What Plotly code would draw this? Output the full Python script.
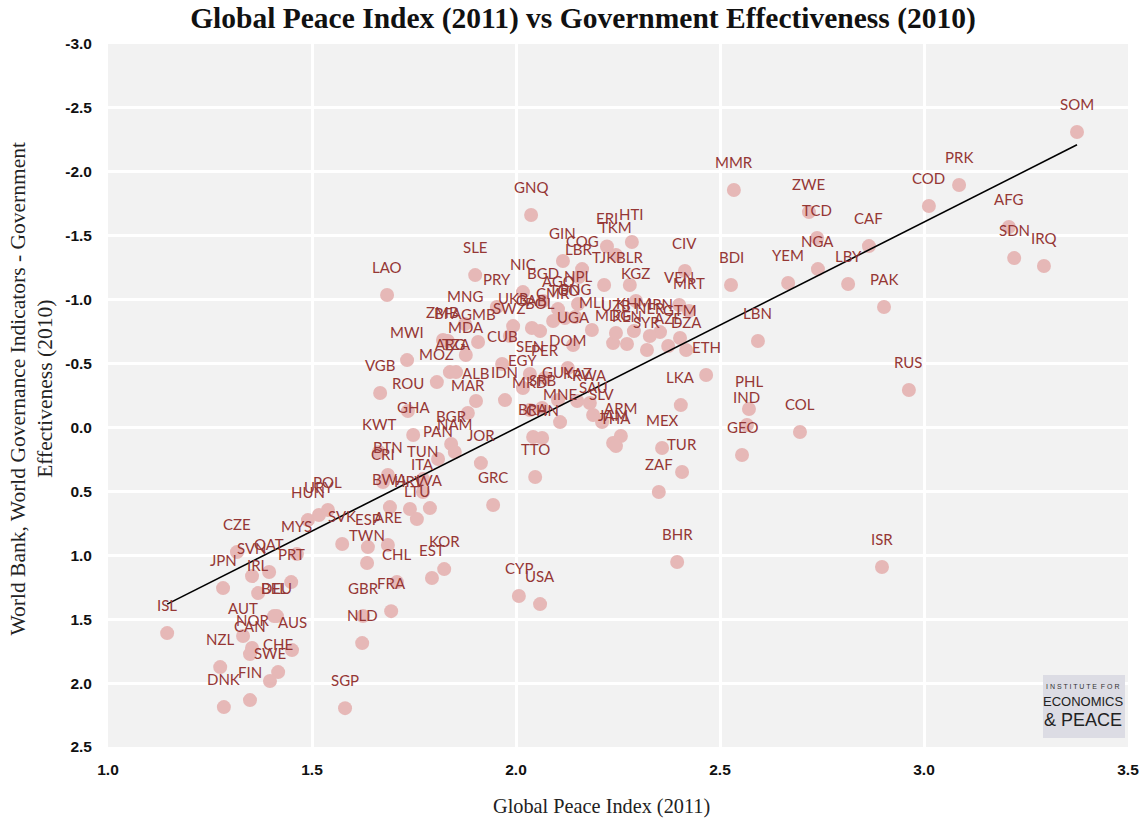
import numpy as np
import plotly.graph_objects as go

codes = ["SOM","PRK","COD","AFG","SDN","IRQ","CAF","PAK","LBY","RUS",
         "ISR","MMR","ZWE","TCD","NGA","YEM","BDI","LBN","ETH","LKA",
         "PHL","IND","GEO","COL","MEX","TUR","ZAF","BHR","CIV","VEN",
         "MRT","ERI","HTI","TKM","GIN","COG","LBR","TJK","BLR","KGZ",
         "NIC","BGD","NPL","AGO","CMR","TGO","PNG","MLI","UKR","GAB",
         "SWZ","BOL","UGA","MDG","CUB","SEN","DOM","PER","GNQ","UZB",
         "KHM","IRN","NER","GTM","KEN","SYR","AZE","DZA","SLE","PRY",
         "LAO","MNG","ZMB","BFA","GMB","MDA","MWI","MOZ","ARG","TZA",
         "VGB","ROU","MAR","ALB","IDN","EGY","MKD","SRB","GUY","KAZ",
         "RWA","SAU","MNE","SLV","BRA","CHN","ARM","JAM","THA","TTO",
         "GRC","CYP","USA","JOR","GHA","BGR","NAM","PAN","KWT","BTN",
         "CRI","TUN","ITA","BWA","HRV","LVA","LTU","SVK","ESP","ARE",
         "TWN","CHL","FRA","GBR","NLD","EST","KOR","SGP","HUN","URY",
         "POL","MYS","CZE","SVN","QAT","JPN","IRL","PRT","DEU","BEL",
         "AUT","NOR","CAN","AUS","NZL","CHE","SWE","FIN","DNK","ISL"]

gpi = [3.375,3.086,3.012,3.208,3.221,3.294,2.865,2.902,2.814,2.963,
       2.897,2.534,2.718,2.738,2.740,2.667,2.527,2.593,2.466,2.404,
       2.571,2.566,2.554,2.696,2.358,2.407,2.350,2.395,2.414,2.400,
       2.424,2.223,2.284,2.245,2.115,2.162,2.154,2.216,2.279,2.294,
       2.017,2.066,2.152,2.103,2.091,2.120,2.145,2.186,1.993,2.039,
       1.985,2.059,2.140,2.238,1.966,2.034,2.127,2.071,2.037,2.245,
       2.289,2.353,2.328,2.402,2.272,2.321,2.373,2.417,1.900,1.953,
       1.684,1.875,1.821,1.833,1.907,1.877,1.733,1.806,1.838,1.853,
       1.667,1.735,1.882,1.902,1.973,2.017,2.034,2.064,2.103,2.150,
       2.181,2.189,2.108,2.211,2.042,2.064,2.257,2.238,2.245,2.047,
       1.944,2.007,2.059,1.914,1.748,1.841,1.850,1.809,1.664,1.686,
       1.674,1.772,1.772,1.691,1.740,1.789,1.757,1.574,1.637,1.686,
       1.635,1.708,1.694,1.625,1.623,1.794,1.824,1.581,1.490,1.517,
       1.539,1.463,1.316,1.353,1.395,1.282,1.368,1.449,1.414,1.407,
       1.331,1.353,1.348,1.451,1.275,1.417,1.397,1.348,1.284,1.145]

ge = [-2.311,-1.897,-1.732,-1.568,-1.325,-1.263,-1.419,-0.942,-1.122,-0.293,
      1.092,-1.858,-1.685,-1.482,-1.239,-1.130,-1.114,-0.676,-0.410,-0.175,
      -0.144,-0.019,0.216,0.036,0.161,0.349,0.505,1.053,-1.224,-0.958,
      -0.911,-1.416,-1.451,-1.349,-1.302,-1.239,-1.177,-1.114,-1.114,-0.989,
      -1.059,-0.989,-0.966,-0.926,-0.833,-0.856,-0.864,-0.762,-0.793,-0.778,
      -0.715,-0.754,-0.645,-0.660,-0.496,-0.418,-0.465,-0.387,-1.662,-0.739,
      -0.754,-0.746,-0.715,-0.700,-0.653,-0.606,-0.637,-0.606,-1.192,-0.942,
      -1.036,-0.809,-0.684,-0.676,-0.668,-0.567,-0.527,-0.355,-0.433,-0.433,
      -0.269,-0.128,-0.113,-0.207,-0.214,-0.308,-0.136,-0.152,-0.214,-0.207,
      -0.191,-0.097,-0.042,-0.042,0.075,0.083,0.067,0.122,0.146,0.388,
      0.607,1.319,1.382,0.279,0.059,0.130,0.192,0.247,0.192,0.372,
      0.427,0.404,0.505,0.623,0.638,0.631,0.717,0.912,0.936,0.920,
      1.061,1.210,1.437,1.476,1.687,1.178,1.108,2.196,0.725,0.685,
      0.646,0.991,0.975,1.163,1.131,1.257,1.296,1.210,1.476,1.476,
      1.632,1.726,1.773,1.742,1.875,1.914,1.984,2.133,2.188,1.609]

y_tick_vals = [-3.0, -2.5, -2.0, -1.5, -1.0, -0.5, 0.0, 0.5, 1.0, 1.5, 2.0, 2.5]
y_tick_text = ["-3.0", "-2.5", "-2.0", "-1.5", "-1.0", "-0.5", "0.0", "0.5", "1.0", "1.5", "2.0", "2.5"]
x_tick_vals = [1.0, 1.5, 2.0, 2.5, 3.0, 3.5]
x_tick_text = ["1.0", "1.5", "2.0", "2.5", "3.0", "3.5"]

gx = np.array(gpi)
gy = np.array(ge)
m, b = np.polyfit(gx, gy, 1)
tx = np.array([gx.min(), gx.max()])
ty = m * tx + b

fig = go.Figure()
fig.add_trace(go.Scatter(x=gpi, y=ge, mode="markers",
                         marker=dict(size=14, color="#e6b8b7", line=dict(width=0)),
                         text=codes, hoverinfo="text", showlegend=False))
fig.add_trace(go.Scatter(x=tx, y=ty, mode="lines",
                         line=dict(color="black", width=1.6),
                         hoverinfo="skip", showlegend=False))

for c, xv, yv in zip(codes, gpi, ge):
    fig.add_annotation(x=xv, y=yv, text=c, showarrow=False, yshift=28,
                       font=dict(family="Lato", size=15, color="#953735"))

# y-axis title (two lines)
fig.add_annotation(xref="paper", yref="paper", x=-0.0745, y=0.51,
                   text="World Bank, World Governance Indicators - Government<br>Effectiveness (2010)",
                   textangle=-90, showarrow=False, xanchor="center", yanchor="middle",
                   font=dict(family="Liberation Serif", size=21.5, color="#222222"))

# x-axis title
fig.add_annotation(xref="paper", yref="paper", x=(601 - 108) / 1020, y=(747 - 806) / 703,
                   text="Global Peace Index (2011)", showarrow=False,
                   xanchor="center", yanchor="middle",
                   font=dict(family="Liberation Serif", size=20.3, color="#222222"))

# logo
fig.add_shape(type="rect", xref="paper", yref="paper",
              x0=(1043 - 108) / 1020, x1=(1125 - 108) / 1020,
              y0=(747 - 738) / 703, y1=(747 - 675) / 703,
              fillcolor="#dcdce4", line=dict(width=0), layer="above")
lx = (1083 - 108) / 1020
fig.add_annotation(xref="paper", yref="paper", x=lx, y=(747 - 686) / 703,
                   text="I N S T I T U T E  F O R", showarrow=False, xanchor="center", yanchor="middle",
                   font=dict(family="Liberation Sans", size=7, color="#333333"))
fig.add_annotation(xref="paper", yref="paper", x=lx, y=(747 - 701) / 703,
                   text="ECONOMICS", showarrow=False, xanchor="center", yanchor="middle",
                   font=dict(family="Liberation Sans Narrow, Liberation Sans", size=13, color="#222222"))
fig.add_annotation(xref="paper", yref="paper", x=lx, y=(747 - 720) / 703,
                   text="&amp; PEACE", showarrow=False, xanchor="center", yanchor="middle",
                   font=dict(family="Liberation Sans Narrow, Liberation Sans", size=18, color="#222222"))

fig.update_layout(
    width=1146, height=821,
    margin=dict(l=108, r=18, t=44, b=74),
    paper_bgcolor="white", plot_bgcolor="#f2f2f2",
    title=dict(text="<b>Global Peace Index (2011) vs Government Effectiveness (2010)</b>",
               x=583 / 1146, xanchor="center", y=1 - 18 / 821, yanchor="middle",
               font=dict(family="Liberation Serif", size=29.5, color="#111111")),
    xaxis=dict(range=[1.0, 3.5], tickvals=x_tick_vals, ticktext=x_tick_text,
               showgrid=True, gridcolor="white", gridwidth=3, zeroline=False,
               tickfont=dict(family="Liberation Sans", size=15.5, color="#111111", weight="bold"),
               automargin=False, ticks="", ticklabelstandoff=11),
    yaxis=dict(range=[2.5, -3.0], tickvals=y_tick_vals, ticktext=y_tick_text,
               showgrid=True, gridcolor="white", gridwidth=3, zeroline=False,
               tickfont=dict(family="Liberation Sans", size=15.5, color="#111111", weight="bold"),
               automargin=False, ticks="", ticklabelstandoff=15),
    font=dict(family="Liberation Sans"),
)

fig.write_html("out.html",
               config={"displayModeBar": False},
               post_script="document.body.style.margin='0px';document.body.style.overflow='hidden';")
